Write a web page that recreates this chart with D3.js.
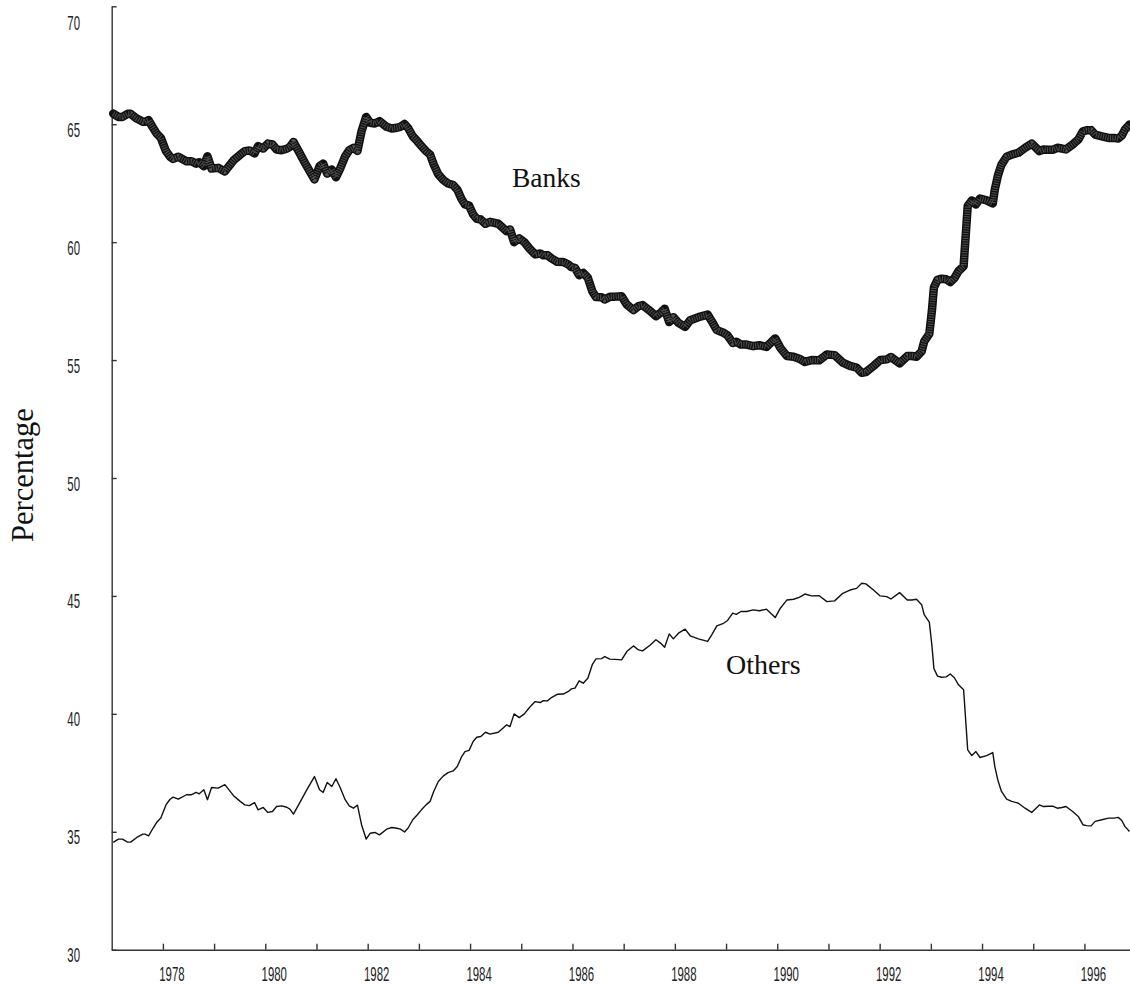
<!DOCTYPE html>
<html>
<head>
<meta charset="utf-8">
<script src="https://cdn.jsdelivr.net/npm/d3@7"></script>
<style>
  body { margin: 0; background: #fff; }
  svg { display: block; }
  .tick-label { font-family: "Liberation Sans", Arial, sans-serif; font-size: 20px; fill: #222; }
  .serif { font-family: "Liberation Serif", "Times New Roman", serif; fill: #111; }
</style>
</head>
<body>
<div id="chart"></div>
<script>
// decimal years
let dates = [
  1977.03, 1977.13, 1977.21, 1977.31, 1977.37, 1977.49, 1977.61, 1977.65, 1977.72, 1977.81,
  1977.88, 1977.96, 1978.06, 1978.14, 1978.20, 1978.30, 1978.46, 1978.56, 1978.65, 1978.71,
  1978.80, 1978.87, 1978.95, 1979.08, 1979.21, 1979.38, 1979.51, 1979.60, 1979.69, 1979.79,
  1979.86, 1979.96, 1980.05, 1980.14, 1980.22, 1980.32, 1980.42, 1980.48, 1980.55, 1980.65,
  1980.81, 1980.96, 1981.06, 1981.13, 1981.21, 1981.30, 1981.38, 1981.46, 1981.56, 1981.64,
  1981.72, 1981.80, 1981.88, 1981.97, 1982.05, 1982.14, 1982.23, 1982.37, 1982.47, 1982.57,
  1982.64, 1982.72, 1982.79, 1982.88, 1982.97, 1983.05, 1983.14, 1983.22, 1983.29, 1983.38,
  1983.48, 1983.57, 1983.67, 1983.75, 1983.83, 1983.90, 1983.98, 1984.06, 1984.13, 1984.21,
  1984.30, 1984.39, 1984.55, 1984.64, 1984.71, 1984.78, 1984.86, 1984.96, 1985.06, 1985.16,
  1985.27, 1985.37, 1985.43, 1985.51, 1985.59, 1985.70, 1985.82, 1985.92, 1985.98, 1986.05,
  1986.13, 1986.21, 1986.30, 1986.39, 1986.46, 1986.57, 1986.63, 1986.73, 1986.83,
  1986.96, 1987.06, 1987.19, 1987.29, 1987.37, 1987.52, 1987.63, 1987.72, 1987.80, 1987.89,
  1987.97, 1988.07, 1988.20, 1988.30, 1988.46, 1988.64, 1988.72, 1988.82, 1988.95, 1989.03,
  1989.13, 1989.20, 1989.29, 1989.40, 1989.53, 1989.65, 1989.79, 1989.96, 1990.06, 1990.19,
  1990.32, 1990.43, 1990.54, 1990.67, 1990.82, 1990.97, 1991.12, 1991.28, 1991.42, 1991.55,
  1991.65, 1991.73, 1991.88, 1992.01, 1992.14, 1992.22, 1992.39, 1992.54, 1992.63, 1992.72,
  1992.82, 1992.87, 1992.97, 1993.02, 1993.06, 1993.13, 1993.21, 1993.30, 1993.38, 1993.46,
  1993.54, 1993.64, 1993.68, 1993.72, 1993.80, 1993.88, 1993.96, 1994.09, 1994.21, 1994.25,
  1994.31, 1994.38, 1994.48, 1994.58, 1994.71, 1994.84, 1994.97, 1995.12, 1995.20, 1995.30,
  1995.39, 1995.47, 1995.56, 1995.64, 1995.77, 1995.88, 1995.97, 1996.04, 1996.13, 1996.21,
  1996.34, 1996.47, 1996.58, 1996.66, 1996.73, 1996.79, 1996.88
];

// share of banks, percent
let banks = [
  65.45, 65.31, 65.31, 65.44, 65.44, 65.24, 65.10, 65.10, 65.17, 64.84,
  64.60, 64.42, 63.86, 63.62, 63.53, 63.62, 63.43, 63.43, 63.33, 63.39,
  63.22, 63.64, 63.12, 63.15, 63.00, 63.47, 63.71, 63.86, 63.89, 63.76,
  64.07, 63.97, 64.18, 64.14, 63.93, 63.90, 63.96, 64.04, 64.25, 63.86,
  63.22, 62.66, 63.22, 63.33, 62.91, 63.08, 62.75, 63.11, 63.64, 63.90,
  64.00, 63.87, 64.70, 65.31, 65.06, 65.03, 65.13, 64.89, 64.82, 64.85,
  64.89, 65.01, 64.84, 64.49, 64.28, 64.07, 63.86, 63.71, 63.29, 62.87,
  62.63, 62.49, 62.42, 62.23, 61.84, 61.60, 61.55, 61.17, 60.99, 60.96,
  60.78, 60.86, 60.78, 60.61, 60.47, 60.54, 60.00, 60.16, 60.00, 59.73,
  59.48, 59.52, 59.44, 59.45, 59.31, 59.17, 59.16, 59.05, 58.94, 58.91,
  58.60, 58.70, 58.49, 57.90, 57.67, 57.66, 57.57, 57.68, 57.69,
  57.71, 57.36, 57.12, 57.29, 57.33, 57.08, 56.86, 57.00, 57.18, 56.61,
  56.82, 56.58, 56.41, 56.69, 56.82, 56.93, 56.65, 56.27, 56.16, 56.04,
  55.73, 55.78, 55.66, 55.66, 55.59, 55.63, 55.56, 55.92, 55.52, 55.17,
  55.14, 55.06, 54.92, 55.00, 54.99, 55.24, 55.21, 54.89, 54.75, 54.68,
  54.46, 54.49, 54.75, 55.00, 55.03, 55.13, 54.86, 55.17, 55.17, 55.14,
  55.37, 55.79, 56.11, 57.08, 58.08, 58.40, 58.45, 58.43, 58.31, 58.47,
  58.77, 58.98, 60.25, 61.53, 61.77, 61.60, 61.85, 61.77, 61.64, 62.24,
  62.82, 63.29, 63.62, 63.71, 63.79, 64.00, 64.18, 63.86, 63.93, 63.92,
  63.92, 64.00, 63.97, 63.93, 64.14, 64.35, 64.70, 64.74, 64.75, 64.56,
  64.49, 64.42, 64.42, 64.39, 64.52, 64.77, 64.99
];

// share of others, percent
let others = [
  34.55, 34.69, 34.69, 34.56, 34.56, 34.76, 34.90, 34.90, 34.83, 35.16,
  35.40, 35.58, 36.14, 36.38, 36.47, 36.38, 36.57, 36.57, 36.67, 36.61,
  36.78, 36.36, 36.88, 36.85, 37.00, 36.53, 36.29, 36.14, 36.11, 36.24,
  35.93, 36.03, 35.82, 35.86, 36.07, 36.10, 36.04, 35.96, 35.75, 36.14,
  36.78, 37.34, 36.78, 36.67, 37.09, 36.92, 37.25, 36.89, 36.36, 36.10,
  36.00, 36.13, 35.30, 34.69, 34.94, 34.97, 34.87, 35.11, 35.18, 35.15,
  35.11, 34.99, 35.16, 35.51, 35.72, 35.93, 36.14, 36.29, 36.71, 37.13,
  37.37, 37.51, 37.58, 37.77, 38.16, 38.40, 38.45, 38.83, 39.01, 39.04,
  39.22, 39.14, 39.22, 39.39, 39.53, 39.46, 40.00, 39.84, 40.00, 40.27,
  40.52, 40.48, 40.56, 40.55, 40.69, 40.83, 40.84, 40.95, 41.06, 41.09,
  41.40, 41.30, 41.51, 42.10, 42.33, 42.34, 42.43, 42.32, 42.31,
  42.29, 42.64, 42.88, 42.71, 42.67, 42.92, 43.14, 43.00, 42.82, 43.39,
  43.18, 43.42, 43.59, 43.31, 43.18, 43.07, 43.35, 43.73, 43.84, 43.96,
  44.27, 44.22, 44.34, 44.34, 44.41, 44.37, 44.44, 44.08, 44.48, 44.83,
  44.86, 44.94, 45.08, 45.00, 45.01, 44.76, 44.79, 45.11, 45.25, 45.32,
  45.54, 45.51, 45.25, 45.00, 44.97, 44.87, 45.14, 44.83, 44.83, 44.86,
  44.63, 44.21, 43.89, 42.92, 41.92, 41.60, 41.55, 41.57, 41.69, 41.53,
  41.23, 41.02, 39.75, 38.47, 38.23, 38.40, 38.15, 38.23, 38.36, 37.76,
  37.18, 36.71, 36.38, 36.29, 36.21, 36.00, 35.82, 36.14, 36.07, 36.08,
  36.08, 36.00, 36.03, 36.07, 35.86, 35.65, 35.30, 35.26, 35.25, 35.44,
  35.51, 35.58, 35.58, 35.61, 35.48, 35.23, 35.01
];

let yTicks = [30, 35, 40, 45, 50, 55, 60, 65, 70];
let xTicks = d3.range(1978, 1997);
let xLabels = [1978, 1980, 1982, 1984, 1986, 1988, 1990, 1992, 1994, 1996];

let svgwidth = 1130;
let svgheight = 984;

let plot = { left: 111.7, right: 1130, top: 6.3, bottom: 949.7 };

let svg = d3.select("#chart")
    .append("svg")
    .attr("width", svgwidth)
    .attr("height", svgheight);

let xScale = d3.scaleLinear()
    .domain([1977, 1996.89])
    .range([plot.left, plot.right]);

let yScale = d3.scaleLinear()
    .domain([30, 70])
    .range([plot.bottom, plot.top]);

// axes, ticks pointing inward
svg.append("g")
    .attr("transform", `translate(0, ${plot.bottom})`)
    .call(d3.axisBottom(xScale).tickValues(xTicks).tickSizeInner(-6).tickSizeOuter(0).tickFormat(""));

svg.append("g")
    .attr("transform", `translate(${plot.left}, 0)`)
    .call(d3.axisLeft(yScale).tickValues(yTicks).tickSizeInner(-5).tickSizeOuter(0).tickFormat(""));

svg.selectAll(".domain, .tick line")
    .attr("stroke", "#333")
    .attr("stroke-width", 1.4);

// condensed tick labels
svg.append("g").selectAll("text")
    .data(xLabels)
    .join("text")
    .attr("class", "tick-label")
    .attr("text-anchor", "middle")
    .attr("transform", d => `translate(${xScale(d) + 9}, 980.5) scale(0.57, 1)`)
    .text(d => d);

svg.append("g").selectAll("text")
    .data(yTicks)
    .join("text")
    .attr("class", "tick-label")
    .attr("text-anchor", "end")
    .attr("transform", d => `translate(80, ${Math.max(yScale(d) + 12.5, 30)}) scale(0.57, 1)`)
    .text(d => d);

let line = d3.line()
    .x((d, i) => xScale(dates[i]))
    .y(d => yScale(d))
    .curve(d3.curveLinear);

// banks: thick hatched band
svg.append("path")
    .datum(banks)
    .attr("fill", "none")
    .attr("stroke", "#111")
    .attr("stroke-width", 8.5)
    .attr("stroke-linejoin", "round")
    .attr("stroke-linecap", "round")
    .attr("d", line);

svg.append("path")
    .datum(banks)
    .attr("fill", "none")
    .attr("stroke", "#505050")
    .attr("stroke-width", 5.5)
    .attr("stroke-dasharray", "1 1.4")
    .attr("stroke-linejoin", "round")
    .attr("d", line);

svg.append("path")
    .datum(others)
    .attr("fill", "none")
    .attr("stroke", "#111")
    .attr("stroke-width", 1.4)
    .attr("stroke-linejoin", "round")
    .attr("d", line);

svg.append("text")
    .attr("class", "serif")
    .attr("x", 512)
    .attr("y", 187)
    .style("font-size", "27.5px")
    .text("Banks");

svg.append("text")
    .attr("class", "serif")
    .attr("x", 726)
    .attr("y", 674)
    .style("font-size", "28px")
    .text("Others");

svg.append("text")
    .attr("class", "serif")
    .attr("transform", "translate(33, 475) rotate(-90)")
    .attr("text-anchor", "middle")
    .style("font-size", "30.5px")
    .text("Percentage");
</script>
</body>
</html>
